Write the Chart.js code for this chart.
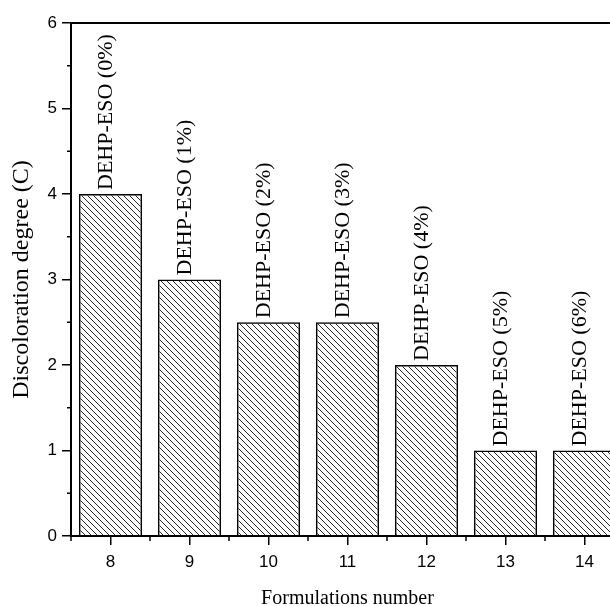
<!DOCTYPE html>
<html>
<head>
<meta charset="utf-8">
<script src="https://cdn.jsdelivr.net/npm/chart.js"></script>
<title>Discoloration degree</title>
<style>
  html, body { margin: 0; padding: 0; overflow: hidden; background: #fff; }
</style>
</head>
<body>
<div>
  <canvas id="myChart" width="624" height="606"></canvas>
</div>

<script>
  // data
  const formulations = ['8', '9', '10', '11', '12', '13', '14'];
  const discoloration = [4, 3, 2.5, 2.5, 2, 1, 1];
  const barLabels = ['DEHP-ESO (0%)', 'DEHP-ESO (1%)', 'DEHP-ESO (2%)', 'DEHP-ESO (3%)',
                     'DEHP-ESO (4%)', 'DEHP-ESO (5%)', 'DEHP-ESO (6%)'];
  const yTicks = [0, 1, 2, 3, 4, 5, 6];

  // hatch fill "\\\\"
  function makeHatch() {
    const c = document.createElement('canvas');
    c.width = 6; c.height = 6;
    const g = c.getContext('2d');
    g.strokeStyle = '#111';
    g.lineWidth = 0.9;
    g.beginPath();
    g.moveTo(-1, -1); g.lineTo(7, 7);
    g.moveTo(-1, 5); g.lineTo(1, 7);
    g.moveTo(5, -1); g.lineTo(7, 1);
    g.stroke();
    return g.createPattern(c, 'repeat');
  }

  const extras = {
    id: 'extras',
    afterDatasetsDraw(chart) {
      const c = chart.ctx;
      const meta = chart.getDatasetMeta(0);
      c.save();
      c.fillStyle = '#000';
      c.font = '22px "Liberation Serif", "Times New Roman", serif';
      c.textAlign = 'left';
      c.textBaseline = 'middle';
      meta.data.forEach((bar, i) => {
        c.save();
        c.translate(bar.x - 4, bar.y - 4);
        c.rotate(-Math.PI / 2);
        c.fillText(barLabels[i], 0, 0);
        c.restore();
      });
      c.restore();
    },
    afterDraw(chart) {
      const c = chart.ctx;
      const a = chart.chartArea;
      const x = chart.scales.x, y = chart.scales.y;
      c.save();
      c.strokeStyle = '#000';
      c.lineWidth = 2;
      // top frame
      c.beginPath();
      c.moveTo(a.left, a.top);
      c.lineTo(a.right + 2, a.top);
      c.stroke();
      // minor ticks
      c.lineWidth = 1.5;
      c.beginPath();
      for (let v = 0.5; v < 6; v += 1) {
        const py = y.getPixelForValue(v);
        c.moveTo(a.left - 4, py); c.lineTo(a.left, py);
      }
      const half = (x.getPixelForValue(1) - x.getPixelForValue(0)) / 2;
      for (let i = 0; i <= formulations.length; i++) {
        const px = x.getPixelForValue(0) - half + i * half * 2;
        c.moveTo(px, a.bottom); c.lineTo(px, a.bottom + 5);
      }
      c.stroke();
      c.restore();
    }
  };

  const ctx = document.getElementById('myChart');
  const tickFont = { family: '"Liberation Sans", Arial, sans-serif', size: 17 };

  new Chart(ctx, {
    type: 'bar',
    data: {
      labels: formulations,
      datasets: [{
        data: discoloration,
        backgroundColor: makeHatch(),
        borderColor: '#000',
        borderWidth: 1.5,
        barPercentage: 0.8,
        categoryPercentage: 1
      }]
    },
    options: {
      responsive: false,
      animation: false,
      devicePixelRatio: 1,
      layout: { padding: { top: 23, right: 0, left: 0, bottom: 0 } },
      plugins: { legend: { display: false }, tooltip: { enabled: false } },
      scales: {
        x: {
          offset: true,
          grid: { display: true, drawOnChartArea: false, offset: false, tickLength: 9, color: '#000', lineWidth: 1.5 },
          border: { display: true, color: '#000', width: 2 },
          ticks: { color: '#000', font: tickFont, padding: 7, maxRotation: 0 },
          title: {
            display: true,
            text: 'Formulations number',
            color: '#000',
            font: { family: '"Liberation Serif", "Times New Roman", serif', size: 20, lineHeight: 1 },
            padding: { top: 0, bottom: -3 }
          },
          afterFit(scale) { scale.height = 70; }
        },
        y: {
          min: 0,
          max: 6,
          afterBuildTicks(scale) { scale.ticks = yTicks.map(v => ({ value: v })); },
          grid: { display: true, drawOnChartArea: false, tickLength: 9, color: '#000', lineWidth: 1.5 },
          border: { display: true, color: '#000', width: 2 },
          ticks: { color: '#000', font: tickFont, padding: 5 },
          title: {
            display: true,
            text: 'Discoloration degree (C)',
            color: '#000',
            font: { family: '"Liberation Serif", "Times New Roman", serif', size: 24, lineHeight: 1 },
            padding: { top: 10, bottom: 0 }
          },
          afterFit(scale) { scale.width = 71; }
        }
      }
    },
    plugins: [extras]
  });
</script>

</body>
</html>
